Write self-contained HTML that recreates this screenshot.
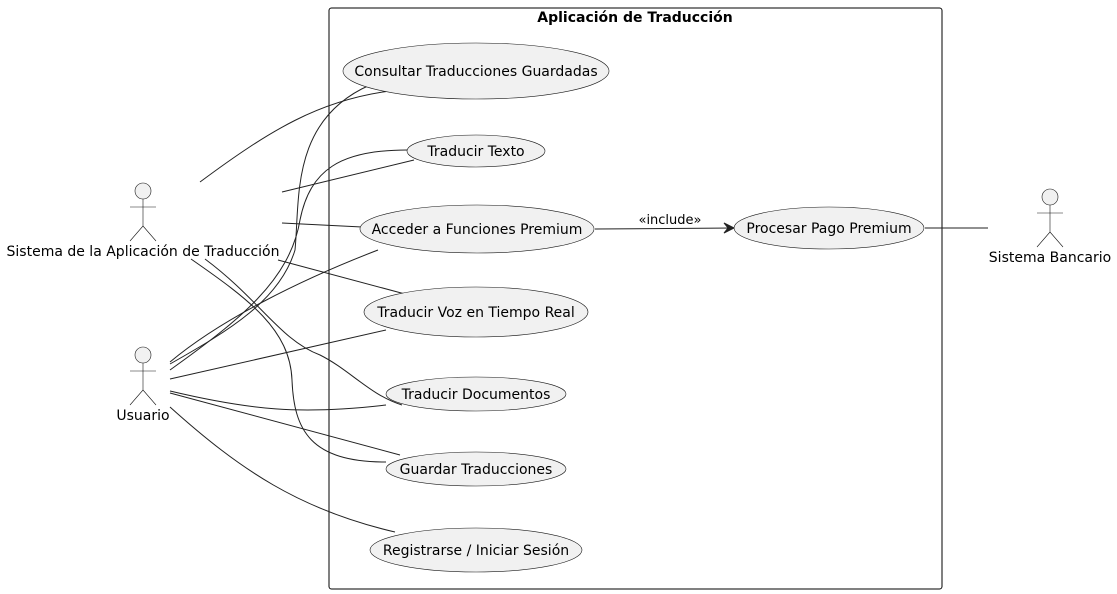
<!DOCTYPE html>
<html><head><meta charset="utf-8"><style>html,body{margin:0;padding:0;background:#fff}svg{display:block}</style></head><body>
<svg width="1117" height="594" viewBox="0 0 1117 594" xmlns="http://www.w3.org/2000/svg" font-family="'DejaVu Sans', 'Liberation Sans', sans-serif" font-size="14">
<rect x="329" y="8" width="613" height="581" rx="2.5" fill="none" stroke="#000" stroke-width="1"/>
<text x="635" y="22" text-anchor="middle" font-weight="bold" font-size="14">Aplicación de Traducción</text>
<g fill="none" stroke="#222" stroke-width="1">
<path d="M200,182 C270,130 320,100 390,91"/>
<path d="M282,192 L414,160"/>
<path d="M282,223 L362,227"/>
<path d="M278,260 L405,294"/>
<path d="M205,259 C260,300 280,340 320,355 C350,370 370,395 402,405"/>
<path d="M191,259 C250,300 290,330 292,380 C294,430 310,462 386,462"/>
<path d="M170,364 C230,330 280,300 295,250 C300,200 290,120 370,85"/>
<path d="M170,370 C240,320 290,280 300,220 C310,170 340,150 407,150"/>
<path d="M170,362 C220,320 300,280 378,250"/>
<path d="M170,379 L386,330"/>
<path d="M170,391 C250,410 300,415 386,405"/>
<path d="M170,393 L400,455"/>
<path d="M170,407 C240,470 300,510 395,532"/>
<path d="M595,229 L734,228"/>
<path d="M925,228 L988,228"/>
</g>
<path d="M734,228 L724,223 L728,228 L724,233 Z" fill="#222" stroke="#222"/>
<text x="670" y="224" text-anchor="middle" font-size="13">«include»</text>
<g fill="#f1f1f1" stroke="#181818" stroke-width="0.6">
<ellipse cx="476" cy="71" rx="133" ry="28"/>
<ellipse cx="476" cy="151" rx="69" ry="16"/>
<ellipse cx="477" cy="229" rx="117" ry="24"/>
<ellipse cx="476" cy="312" rx="112" ry="25"/>
<ellipse cx="476" cy="394" rx="90" ry="17"/>
<ellipse cx="476" cy="469" rx="90" ry="17"/>
<ellipse cx="476" cy="550" rx="106" ry="22"/>
<ellipse cx="829" cy="228" rx="95" ry="21"/>
</g>
<g text-anchor="middle" fill="#000">
<text x="476" y="76">Consultar Traducciones Guardadas</text>
<text x="476" y="156">Traducir Texto</text>
<text x="477" y="234">Acceder a Funciones Premium</text>
<text x="476" y="317">Traducir Voz en Tiempo Real</text>
<text x="476" y="399">Traducir Documentos</text>
<text x="476" y="474">Guardar Traducciones</text>
<text x="476" y="555">Registrarse / Iniciar Sesión</text>
<text x="829" y="233">Procesar Pago Premium</text>
</g>
<g fill="#f1f1f1" stroke="#181818" stroke-width="0.6">
<circle cx="143" cy="191" r="8"/>
<path d="M143,199 V226 M130,207 H156 M143,226 L130,241 M143,226 L156,241" fill="none"/>
<circle cx="143" cy="355" r="8"/>
<path d="M143,363 V390 M130,371 H156 M143,390 L130,405 M143,390 L156,405" fill="none"/>
<circle cx="1050" cy="197" r="8"/>
<path d="M1050,205 V232 M1037,213 H1063 M1050,232 L1037,247 M1050,232 L1063,247" fill="none"/>
</g>
<g text-anchor="middle" fill="#000">
<text x="143" y="256">Sistema de la Aplicación de Traducción</text>
<text x="143" y="420">Usuario</text>
<text x="1050" y="262">Sistema Bancario</text>
</g>
</svg>
</body></html>
